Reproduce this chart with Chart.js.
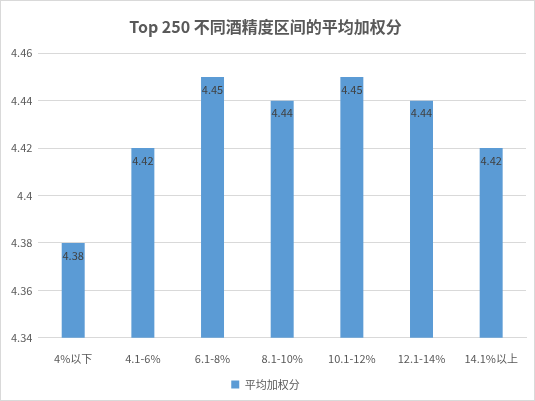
<!DOCTYPE html>
<html>
<head>
<meta charset="utf-8">
<script src="https://cdn.jsdelivr.net/npm/chart.js@4/dist/chart.umd.min.js"></script>
<style>
  body { margin: 0; background: #fff; }
  #wrap { position: absolute; left: 0; top: 0; width: 533px; height: 399px; border: 1px solid #d9d9d9; }
</style>
</head>
<body>
<div id="wrap"><canvas id="c"></canvas></div>
<script>
const categories = ['4%以下', '4.1-6%', '6.1-8%', '8.1-10%', '10.1-12%', '12.1-14%', '14.1%以上'];
const scores = [4.38, 4.42, 4.45, 4.44, 4.45, 4.44, 4.42];
const yTicks = [4.34, 4.36, 4.38, 4.4, 4.42, 4.44, 4.46];

// draw the value just under the top of each bar
const valueLabels = {
    id: 'valueLabels',
    afterDatasetsDraw(chart) {
        const ctx = chart.ctx;
        const meta = chart.getDatasetMeta(0);
        ctx.save();
        ctx.font = '11px "Noto Sans CJK SC", sans-serif';
        ctx.fillStyle = '#404040';
        ctx.textAlign = 'center';
        ctx.textBaseline = 'top';
        meta.data.forEach(function(bar, i) {
            ctx.fillText(String(scores[i]), bar.x, bar.y + 7);
        });
        ctx.restore();
    }
};

new Chart(document.getElementById('c'), {
    type: 'bar',
    data: {
        labels: categories,
        datasets: [{
            label: '平均加权分',
            data: scores,
            backgroundColor: '#5b9bd5',
            categoryPercentage: 1,
            barPercentage: 0.33
        }]
    },
    options: {
        responsive: true,
        maintainAspectRatio: false,
        animation: false,
        layout: { padding: { left: 4, right: 8, top: 4, bottom: 0 } },
        scales: {
            y: {
                min: 4.34,
                max: 4.46,
                afterBuildTicks: function(axis) {
                    axis.ticks = yTicks.map(v => ({ value: v }));
                },
                ticks: {
                    color: '#595959',
                    font: { size: 11, family: '"Noto Sans CJK SC", sans-serif' },
                    padding: 6,
                    callback: function(value) { return String(Math.round(value * 100) / 100); }
                },
                grid: { color: '#d9d9d9', drawTicks: false },
                border: { display: false }
            },
            x: {
                ticks: {
                    color: '#595959',
                    font: { size: 11, family: '"Noto Sans CJK SC", sans-serif' },
                    padding: 6
                },
                grid: { display: false },
                border: { color: '#d9d9d9' }
            }
        },
        plugins: {
            title: {
                display: true,
                text: 'Top 250 不同酒精度区间的平均加权分',
                color: '#595959',
                font: { size: 16, weight: 'bold', family: '"Noto Sans CJK SC", sans-serif' },
                padding: { top: 12, bottom: 17 }
            },
            legend: {
                position: 'bottom',
                labels: {
                    color: '#595959',
                    boxWidth: 8,
                    boxHeight: 8,
                    font: { size: 11, family: '"Noto Sans CJK SC", sans-serif' },
                    padding: 8
                }
            },
            tooltip: { enabled: false }
        }
    },
    plugins: [valueLabels]
});
</script>
</body>
</html>
